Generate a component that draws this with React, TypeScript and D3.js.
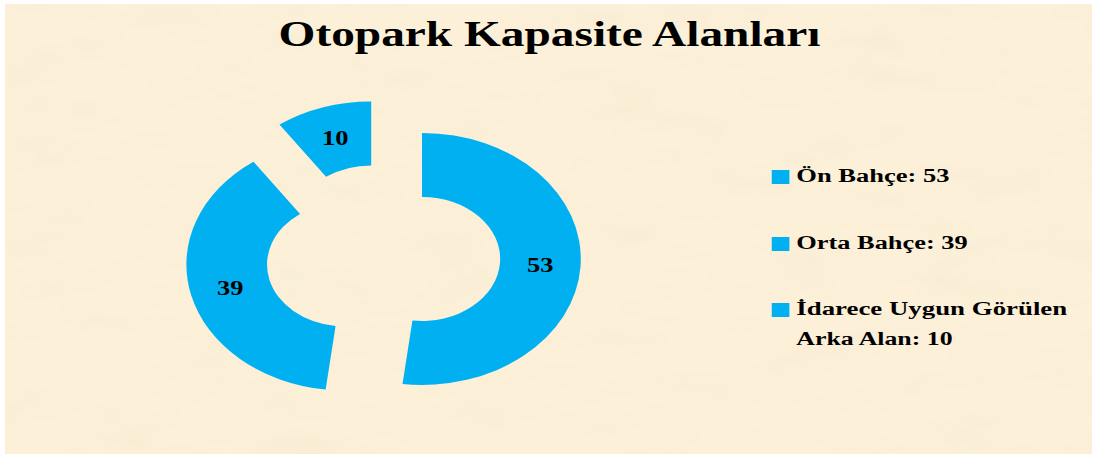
import React from 'react';
import * as d3 from 'd3';

const categories = ['Ön Bahçe', 'Orta Bahçe', 'İdarece Uygun Görülen Arka Alan'];
const values = [53, 39, 10];
const legendLines = [['Ön Bahçe: 53'], ['Orta Bahçe: 39'], ['İdarece Uygun Görülen', 'Arka Alan: 10']];
const title = 'Otopark Kapasite Alanları';

const W = 1094;
const H = 456;
// the whole picture is stretched sideways, so draw in narrow units and scale x
const SX = 1.26;
const BLUE = '#00B0F0';
const FONT = '"Liberation Serif", "Times New Roman", serif';

// measured text widths (narrow units) so the serif font fills the same room
const legendWidths = [[121.5], [136], [215, 124]];
const legendTop = [170, 237, 303];

const App = () => {
  const cx = 304;
  const cy = 257;
  const outer = 126;
  const inner = 62;
  const explode = 31;

  const pie = d3.pie<number>().sort(null).value(d => d)(values);
  const arc = d3.arc<d3.PieArcDatum<number>>().innerRadius(inner).outerRadius(outer);

  const shift = (d: d3.PieArcDatum<number>) => {
    const mid = (d.startAngle + d.endAngle) / 2;
    return [Math.sin(mid) * explode, -Math.cos(mid) * explode];
  };

  return (
    <svg width={W} height={H} style={{ position: 'absolute', left: 0, top: 0 }}>
      <defs>
        <filter id="paper" x="0" y="0" width="100%" height="100%">
          <feTurbulence type="fractalNoise" baseFrequency="0.012 0.03" numOctaves={3} seed={7} />
          <feColorMatrix type="matrix"
            values="0 0 0 0 0.91  0 0 0 0 0.82  0 0 0 0 0.62  0.9 0 0 0 -0.38" />
        </filter>
      </defs>
      <rect width={W} height={H} fill="#ffffff" />
      <rect x={5} y={4} width={1087} height={450} fill="#FCF0D9" />
      <rect x={5} y={4} width={1087} height={450} filter="url(#paper)" />

      <g transform={`scale(${SX},1)`}>
        <text x={(W / SX) / 2 + 2} y={46} textAnchor="middle" fontFamily={FONT} fontWeight="bold"
          fontSize={35} textLength={430} lengthAdjust="spacingAndGlyphs" fill="#000">{title}</text>

        <g>
          {pie.map((d, i) => {
            const [dx, dy] = shift(d);
            const [lx, ly] = arc.centroid(d);
            return (
              <g key={categories[i]} transform={`translate(${cx + dx},${cy + dy})`}>
                <path d={arc(d) || ''} fill={BLUE} />
                <text x={lx} y={ly} dy="0.35em" textAnchor="middle" fontFamily={FONT}
                  fontWeight="bold" fontSize={21} fill="#000">{d.data}</text>
              </g>
            );
          })}
        </g>

        <g>
          {legendLines.map((lines, i) => (
            <g key={categories[i]}>
              <rect x={612.5} y={legendTop[i]} width={14} height={14} fill={BLUE} />
              {lines.map((line, j) => (
                <text key={line} x={632} y={legendTop[i] + 12 + j * 30} fontFamily={FONT}
                  fontWeight="bold" fontSize={19} textLength={legendWidths[i][j]}
                  lengthAdjust="spacingAndGlyphs" fill="#000">{line}</text>
              ))}
            </g>
          ))}
        </g>
      </g>
    </svg>
  );
};

export default App;
